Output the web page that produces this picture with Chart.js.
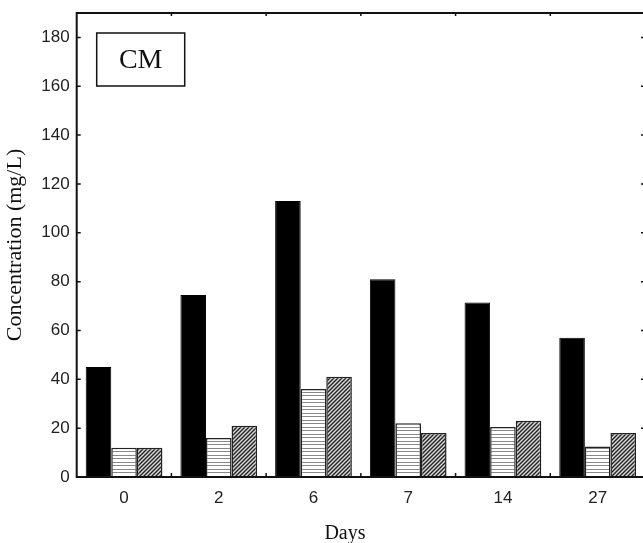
<!DOCTYPE html>
<html>
<head>
<meta charset="utf-8">
<script src="https://cdn.jsdelivr.net/npm/chart.js@4.4.1/dist/chart.umd.min.js"></script>
<style>
  html, body { margin: 0; padding: 0; background: #fff; overflow: hidden; }
  #wrap { position: absolute; left: 0; top: 0; width: 660px; height: 543px; }
</style>
</head>
<body>
<div id="wrap"><canvas id="barChart" width="660" height="543"></canvas></div>
<script>
// values
var days = ['0', '2', '6', '7', '14', '27'];
var solidVals = [45, 74.5, 113, 81, 71.5, 57];
var stripeVals = [12, 16, 36, 22, 20.5, 12.5];
var hatchVals = [12, 21, 41, 18, 23, 18];
var yTicks = [0, 20, 40, 60, 80, 100, 120, 140, 160, 180];
var panelLabel = 'CM';

// fill patterns
function stripePattern() {
    var c = document.createElement('canvas');
    c.width = 8; c.height = 7;
    var g = c.getContext('2d');
    g.fillStyle = '#fff';
    g.fillRect(0, 0, 8, 7);
    g.fillStyle = '#888';
    g.fillRect(0, 0, 8, 1);
    g.fillRect(0, 3, 8, 1);
    return g.createPattern(c, 'repeat');
}

function hatchPattern() {
    var c = document.createElement('canvas');
    c.width = 4; c.height = 4;
    var g = c.getContext('2d');
    g.fillStyle = '#d8d8d8';
    g.fillRect(0, 0, 4, 4);
    g.strokeStyle = '#222';
    g.lineWidth = 1.4;
    g.beginPath();
    g.moveTo(-1, 5); g.lineTo(5, -1);
    g.moveTo(-1, 1); g.lineTo(1, -1);
    g.moveTo(3, 5); g.lineTo(5, 3);
    g.stroke();
    return g.createPattern(c, 'repeat');
}

// frame, inward ticks, panel box and x title
var framePlugin = {
    id: 'frame',
    afterDatasetsDraw(chart) {
        var ctx = chart.ctx;
        var a = chart.chartArea;
        var x = chart.scales.x;
        var y = chart.scales.y;
        ctx.save();
        ctx.strokeStyle = '#111';
        ctx.lineWidth = 2;
        ctx.strokeRect(a.left, a.top, a.right - a.left, a.bottom - a.top);

        ctx.lineWidth = 1.5;
        ctx.beginPath();
        yTicks.forEach(function (v) {
            var py = y.getPixelForValue(v);
            ctx.moveTo(a.left, py); ctx.lineTo(a.left + 4, py);
            ctx.moveTo(a.right, py); ctx.lineTo(a.right - 4, py);
        });
        for (var i = 1; i < days.length; i++) {
            var px = (x.getPixelForValue(i - 1) + x.getPixelForValue(i)) / 2;
            ctx.moveTo(px, a.bottom); ctx.lineTo(px, a.bottom - 4);
            ctx.moveTo(px, a.top); ctx.lineTo(px, a.top + 3);
        }
        ctx.stroke();

        // panel label box
        ctx.lineWidth = 1.5;
        ctx.strokeRect(a.left + 20, a.top + 20, 88, 53);
        ctx.fillStyle = '#111';
        ctx.font = '28px "Liberation Serif"';
        ctx.textAlign = 'center';
        ctx.textBaseline = 'middle';
        ctx.fillText(panelLabel, a.left + 64, a.top + 48);

        // x axis title
        ctx.font = '20px "Liberation Serif"';
        ctx.fillText('Days', a.left + 0.472 * (a.right - a.left), 534);
        ctx.restore();
    }
};

var ctx = document.getElementById('barChart').getContext('2d');
new Chart(ctx, {
    type: 'bar',
    data: {
        labels: days,
        datasets: [{
            label: 'solid',
            data: solidVals,
            backgroundColor: '#000',
            borderColor: '#000',
            borderWidth: 1
        }, {
            label: 'striped',
            data: stripeVals,
            backgroundColor: stripePattern(),
            borderColor: '#222',
            borderWidth: 1.5
        }, {
            label: 'hatched',
            data: hatchVals,
            backgroundColor: hatchPattern(),
            borderColor: '#222',
            borderWidth: 1.5
        }]
    },
    options: {
        responsive: false,
        animation: false,
        layout: { padding: { left: 2, right: 15, top: 13, bottom: 0 } },
        categoryPercentage: 0.81,
        barPercentage: 1.0,
        plugins: {
            legend: { display: false },
            tooltip: { enabled: false }
        },
        scales: {
            x: {
                grid: { display: false, drawTicks: false },
                border: { display: false },
                ticks: {
                    color: '#222',
                    padding: 11,
                    font: { family: '"Liberation Sans"', size: 17 }
                },
                afterFit: function (scale) { scale.height = 66; }
            },
            y: {
                min: 0,
                max: 190,
                grid: { display: false, drawTicks: false },
                border: { display: false },
                afterBuildTicks: function (scale) {
                    scale.ticks = yTicks.map(function (v) { return { value: v }; });
                },
                ticks: {
                    color: '#222',
                    padding: 7,
                    font: { family: '"Liberation Sans"', size: 17 }
                },
                title: {
                    display: true,
                    text: 'Concentration (mg/L)',
                    color: '#111',
                    padding: { top: 0, bottom: 0 },
                    font: { family: '"Liberation Serif"', size: 22, weight: 'normal' }
                },
                afterFit: function (scale) {
                    scale.width = 74.7;
                    scale.paddingTop = 0;
                    scale.paddingBottom = 0;
                }
            }
        }
    },
    plugins: [framePlugin]
});
</script>
</body>
</html>
